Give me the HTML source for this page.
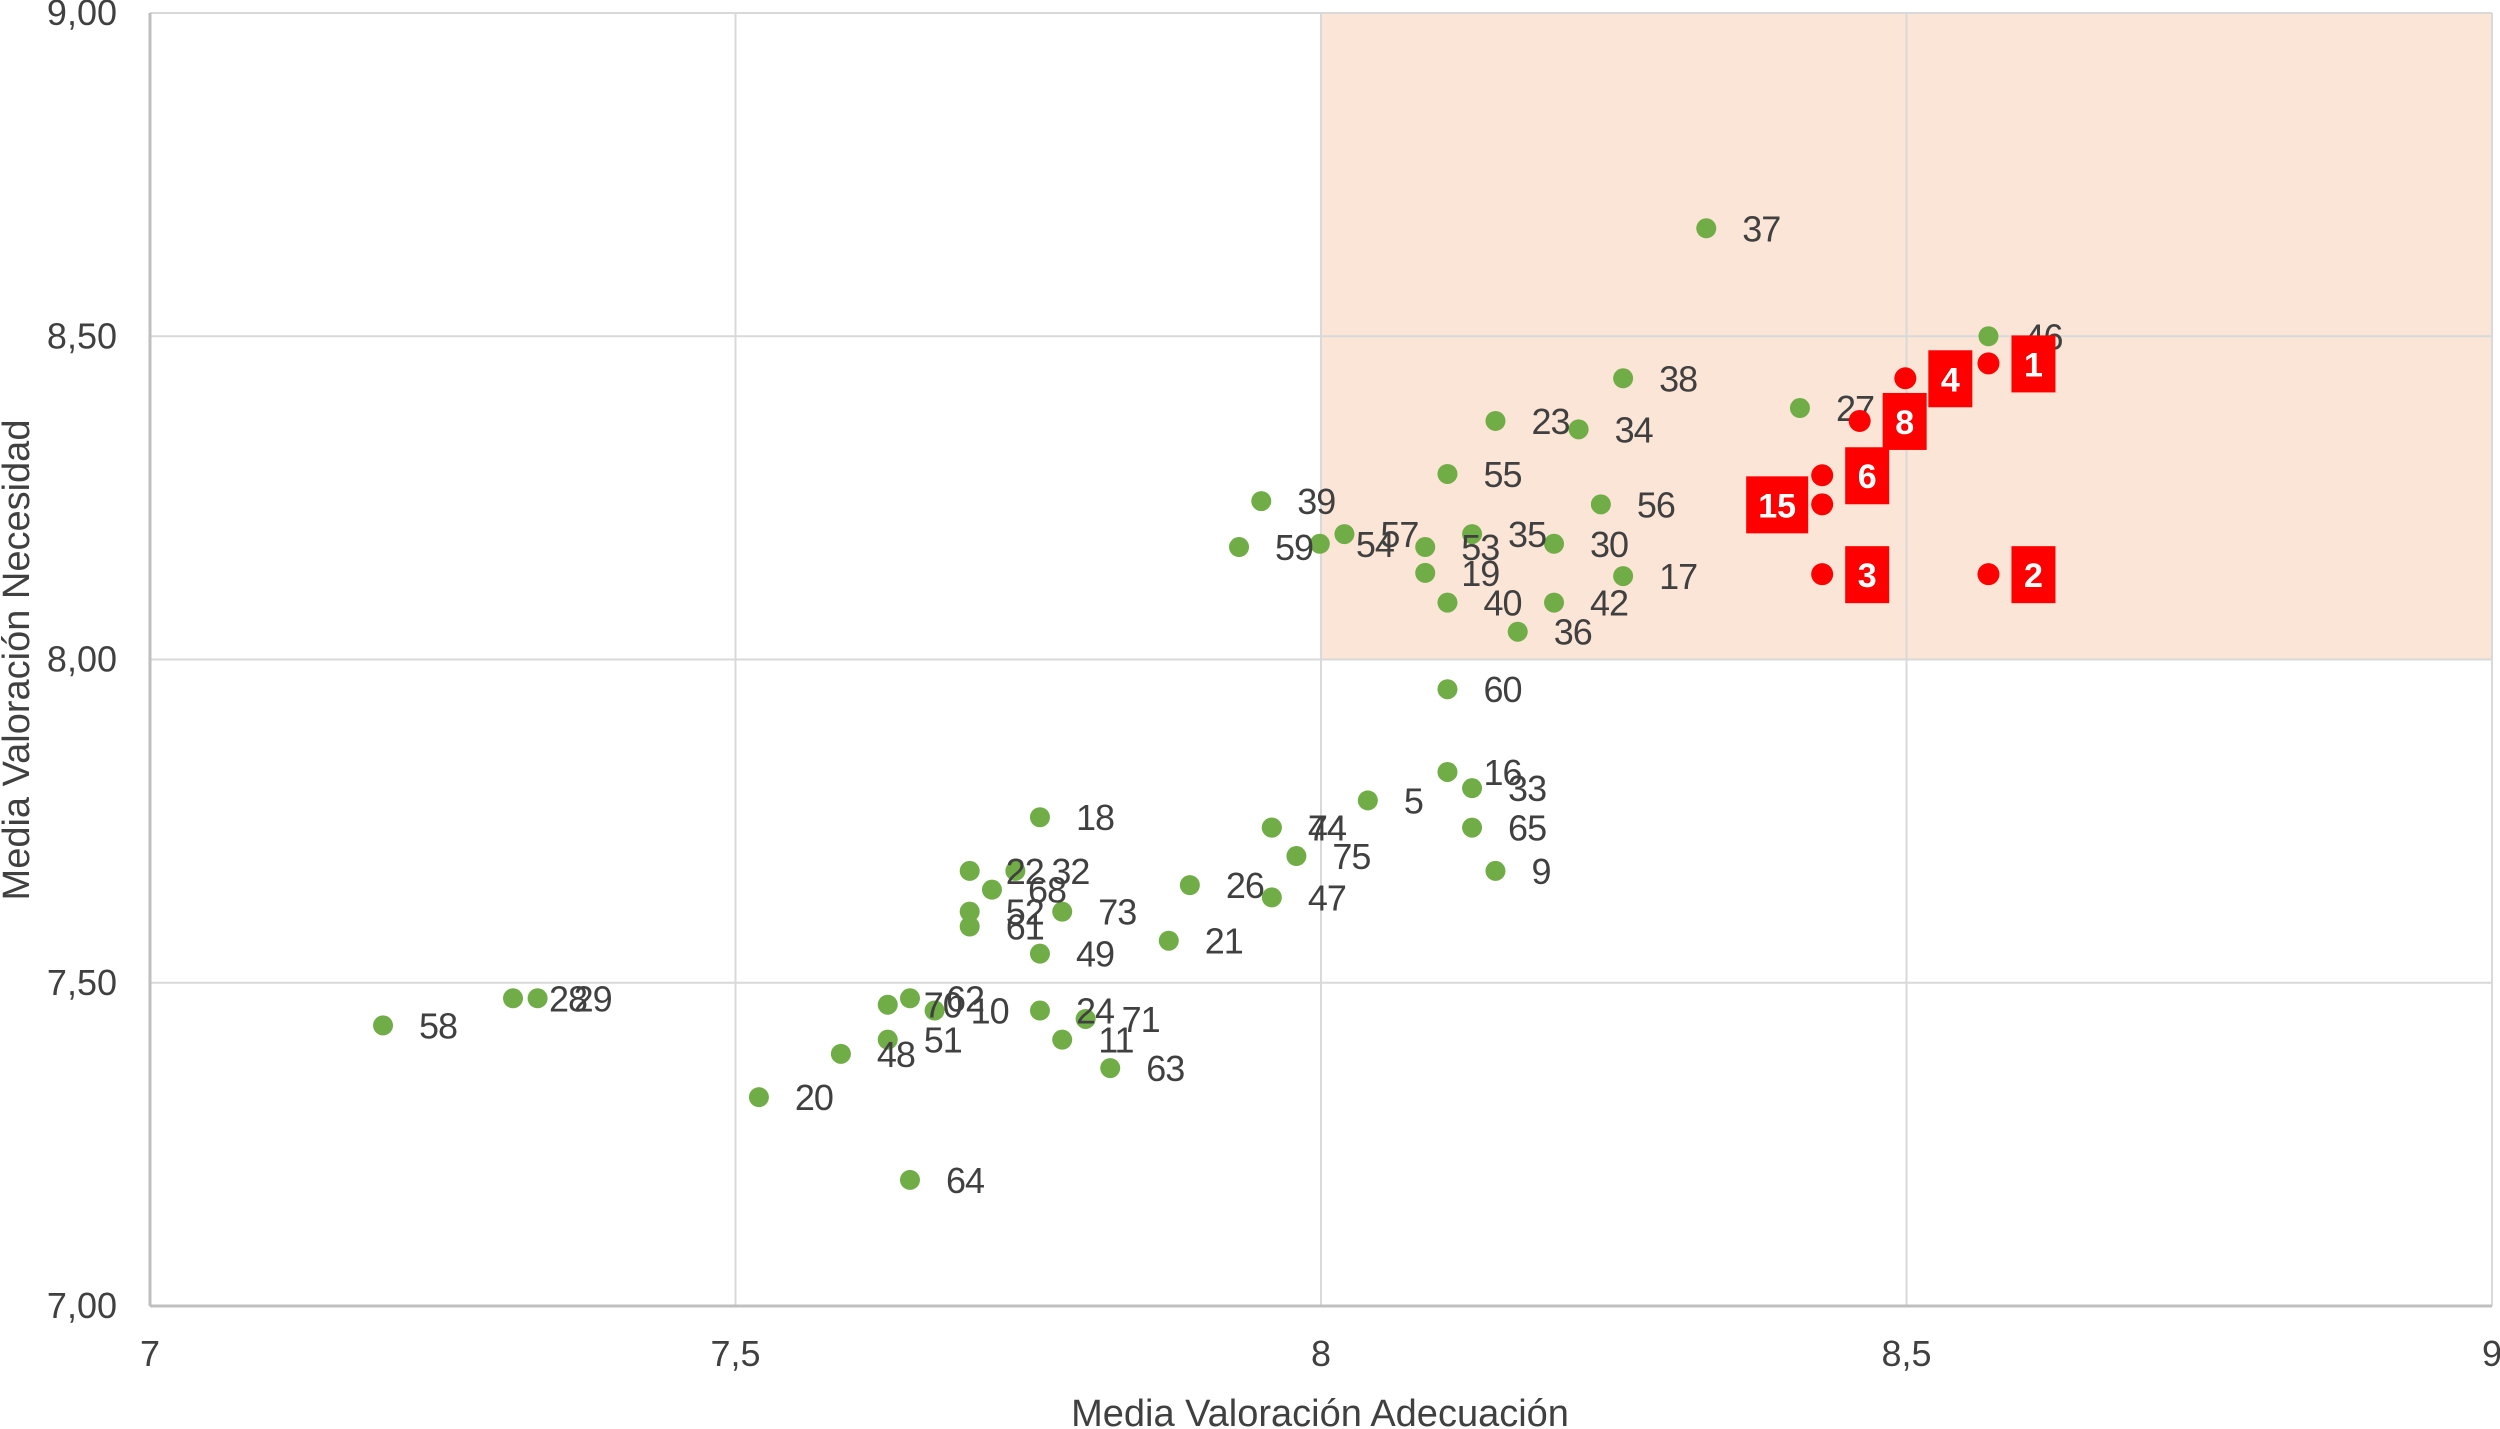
<!DOCTYPE html>
<html><head><meta charset="utf-8"><style>
html,body{margin:0;padding:0;background:#fff;}
svg{display:block;font-family:"Liberation Sans",sans-serif;}
</style></head><body>
<svg id="chart" width="2500" height="1429" viewBox="0 0 2500 1429" xmlns="http://www.w3.org/2000/svg">
<g id="plot"></g>
<text x="0" y="0" transform="translate(29,660) rotate(-90)" text-anchor="middle" font-size="38" fill="#404040">Media Valoración  Necesidad</text>
<text x="1320" y="1426" text-anchor="middle" font-size="38" fill="#404040">Media Valoración Adecuación</text>
</svg>
<script>
const greenLabels=["37","46","27","38","23","34","55","39","56","57","54","59","53","35","30","19","17","40","42","36","60","16","33","5","65","9","74","44","75","47","26","21","18","22","32","68","52","61","73","49","58","28","29","62","70","10","24","71","51","11","48","63","20","64"];
const greenX=[8.329,8.570,8.409,8.258,8.149,8.220,8.108,7.949,8.239,8.020,7.999,7.930,8.089,8.129,8.199,8.089,8.258,8.108,8.199,8.168,8.108,8.108,8.129,8.040,8.129,8.149,7.958,7.958,7.979,7.958,7.888,7.870,7.760,7.700,7.739,7.719,7.700,7.700,7.779,7.760,7.199,7.310,7.331,7.649,7.630,7.670,7.760,7.799,7.630,7.779,7.590,7.820,7.520,7.649];
const greenY=[8.667,8.500,8.389,8.435,8.369,8.356,8.287,8.245,8.240,8.194,8.179,8.174,8.174,8.194,8.179,8.134,8.129,8.088,8.088,8.043,7.954,7.826,7.801,7.782,7.740,7.673,7.740,7.740,7.696,7.632,7.651,7.565,7.756,7.673,7.673,7.644,7.610,7.587,7.610,7.545,7.434,7.476,7.476,7.476,7.466,7.457,7.457,7.444,7.412,7.412,7.390,7.368,7.323,7.195];
const redLabels=["1","4","8","6","15","3","2"];
const redX=[8.570,8.499,8.460,8.428,8.428,8.428,8.570];
const redY=[8.458,8.435,8.369,8.285,8.240,8.132,8.132];
const xTicks=[7,7.5,8,8.5,9];
const xTickLabels=["7","7,5","8","8,5","9"];
const yTicks=[7,7.5,8,8.5,9];
const yTickLabels=["7,00","7,50","8,00","8,50","9,00"];

const X0=150,X1=2492,Y0=1306,Y1=13;
const sx=v=>X0+(v-7)/2*(X1-X0);
const sy=v=>Y0-(v-7)/2*(Y0-Y1);
const NS="http://www.w3.org/2000/svg";
const plot=document.getElementById('plot');
function mk(tag,attrs,parent){const e=document.createElementNS(NS,tag);for(const k in attrs)e.setAttribute(k,attrs[k]);(parent||plot).appendChild(e);return e;}

const hl=mk('rect',{x:sx(8),y:sy(9),width:sx(9)-sx(8),height:sy(8)-sy(9),fill:'#fbe5d6'});



xTicks.forEach((t,i)=>{
  const l=mk('line',{x1:sx(t),x2:sx(t),y1:sy(9),y2:sy(7),stroke:'#d9d9d9','stroke-width':2});
  
  
  const tx=mk('text',{x:sx(t),y:1366,'text-anchor':'middle','font-size':36,fill:'#404040'});
  tx.textContent=xTickLabels[i];
  
  
});
yTicks.forEach((t,i)=>{
  const l=mk('line',{x1:sx(7),x2:sx(9),y1:sy(t),y2:sy(t),stroke:'#d9d9d9','stroke-width':2});
  
  
  const tx=mk('text',{x:117,y:sy(t)+12,'text-anchor':'end','font-size':36,fill:'#404040'});
  tx.textContent=yTickLabels[i];
  
  
});
const ax=mk('line',{x1:sx(7),x2:sx(9),y1:sy(7),y2:sy(7),stroke:'#bfbfbf','stroke-width':3});


const ay=mk('line',{x1:sx(7),x2:sx(7),y1:sy(9),y2:sy(7),stroke:'#bfbfbf','stroke-width':3});



greenX.forEach((v,i)=>{
  const c=mk('circle',{cx:sx(v),cy:sy(greenY[i]),r:10,fill:'#70ad47'});
  
  
});
greenX.forEach((v,i)=>{
  const t=mk('text',{x:sx(v)+36,y:sy(greenY[i])+13,'font-size':36,'letter-spacing':'-1',fill:'#404040'});
  t.textContent=greenLabels[i];
  
  
});
redX.forEach((v,i)=>{
  const cx=sx(v),cy=sy(redY[i]);
  const c=mk('circle',{cx:cx,cy:cy,r:11,fill:'#ff0000'});
  
  
  const w=redLabels[i].length>1?62:44;
  const left=redLabels[i]==="15";
  const bx=left?cx-14-w:cx+23;
  const r=mk('rect',{x:bx,y:cy-28,width:w,height:57,fill:'#ff0000'});
  
  
  const t=mk('text',{x:bx+w/2,y:cy+13,'text-anchor':'middle','font-size':34,'font-weight':'bold',fill:'#ffffff'});
  t.textContent=redLabels[i];
  
  
});
</script>
</body></html>
